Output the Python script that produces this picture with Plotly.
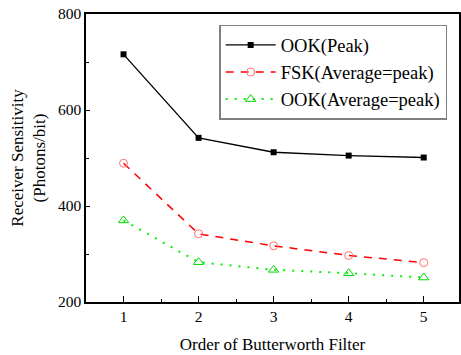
import plotly.graph_objects as go

orders = [1, 2, 3, 4, 5]
ook_peak = [716, 542, 512, 505, 501]
fsk_avg = [489, 342, 317, 297, 282]
ook_avg = [370, 283, 267, 260, 251]

FONT = "Liberation Serif, Times New Roman, serif"

fig = go.Figure()
fig.add_trace(go.Scatter(
    x=orders, y=ook_peak, name="OOK(Peak)", mode="lines+markers",
    line=dict(color="black", width=1.3),
    marker=dict(symbol="square", size=6, color="black")))
fig.add_trace(go.Scatter(
    x=orders, y=fsk_avg, name="FSK(Average=peak)", mode="lines+markers",
    line=dict(color="#ff0000", width=1.5, dash="8px,7px"),
    marker=dict(symbol="circle-open", size=8, color="#ff7070", line=dict(width=1))))
fig.add_trace(go.Scatter(
    x=orders, y=ook_avg, name="OOK(Average=peak)", mode="lines+markers",
    line=dict(color="#00f000", width=2, dash="2px,7px"),
    marker=dict(symbol="triangle-up-open", size=9, color="#00d800", line=dict(width=1))))

fig.update_layout(
    width=461, height=355,
    margin=dict(l=86, r=0, t=14, b=53),
    paper_bgcolor="white", plot_bgcolor="white",
    font=dict(family=FONT, size=15, color="black"),
    showlegend=True,
    legend=dict(
        x=0.357, y=0.962, xanchor="left", yanchor="top",
        bordercolor="#808080", borderwidth=1.5, bgcolor="white",
        font=dict(family=FONT, size=18.5), tracegroupgap=0,
        itemwidth=50),
    xaxis=dict(
        range=[0.5, 5.47], tickvals=orders, ticktext=[str(o) for o in orders],
        showline=True, linecolor="black", linewidth=1.5, mirror=True,
        ticks="inside", ticklen=6, tickwidth=1, tickcolor="black",
        minor=dict(ticks="inside", ticklen=3, dtick=0.5, tick0=0.5, tickcolor="black"),
        showgrid=False, zeroline=False,
        tickfont=dict(family=FONT, size=15.5),
        title=dict(text="Order of Butterworth Filter", font=dict(family=FONT, size=17), standoff=14)),
    yaxis=dict(
        range=[200, 800], tickvals=[200, 400, 600, 800],
        showline=True, linecolor="black", linewidth=1.5, mirror=True,
        ticks="inside", ticklen=4, tickwidth=1, tickcolor="black",
        minor=dict(ticks="inside", ticklen=3, dtick=100, tickcolor="black"),
        showgrid=False, zeroline=False,
        tickfont=dict(family=FONT, size=15.5),
        title=dict(text="Receiver Sensitivity<br>(Photons/bit)", font=dict(family=FONT, size=17), standoff=8)),
)

fig.write_html("out.html")
